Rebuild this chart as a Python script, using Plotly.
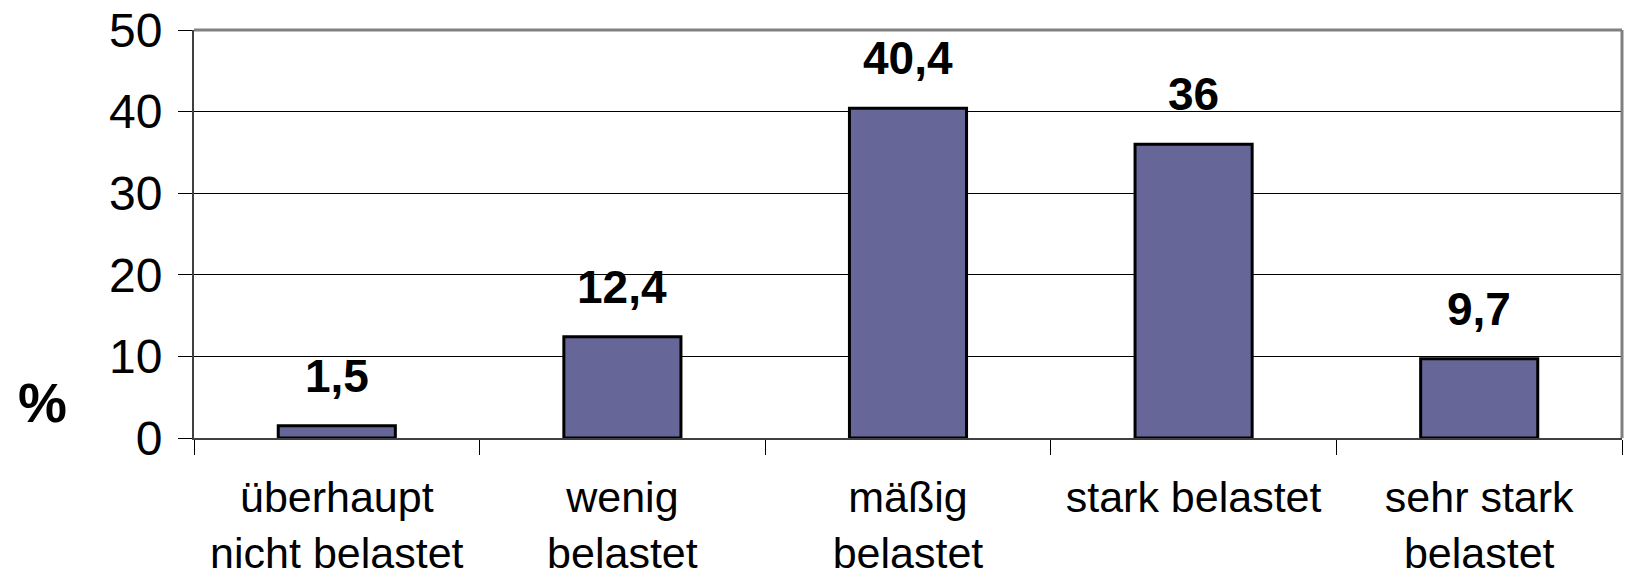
import plotly.graph_objects as go

categories = ["überhaupt<br>nicht belastet", "wenig<br>belastet", "mäßig<br>belastet",
              "stark belastet", "sehr stark<br>belastet"]
values = [1.5, 12.4, 40.4, 36, 9.7]
value_labels = ["1,5", "12,4", "40,4", "36", "9,7"]
y_ticks = [0, 10, 20, 30, 40, 50]

FONT = "Liberation Sans, Arial, sans-serif"

fig = go.Figure()
fig.add_trace(go.Bar(
    x=categories, y=values,
    marker=dict(color="#666699", line=dict(color="#000000", width=3)),
    hoverinfo="skip",
))

for c, v, t in zip(categories, values, value_labels):
    fig.add_annotation(x=c, y=v, text="<b>%s</b>" % t, showarrow=False,
                       xref="x", yref="y", yanchor="bottom", yshift=22,
                       font=dict(family=FONT, size=46, color="#000000"))

fig.add_annotation(x=-0.1064, y=4.3, xref="paper", yref="y", text="<b>%</b>",
                   showarrow=False, xanchor="center", yanchor="middle",
                   font=dict(family=FONT, size=55, color="#000000"))

# frame: top and right borders in gray
fig.add_shape(type="line", xref="paper", yref="paper", x0=0, x1=1, y0=1, y1=1,
              line=dict(color="#808080", width=3))
fig.add_shape(type="line", xref="paper", yref="paper", x0=1, x1=1, y0=0, y1=1,
              line=dict(color="#808080", width=3))

fig.update_layout(
    width=1625, height=581,
    margin=dict(l=194, r=3, t=30, b=143, autoexpand=False),
    paper_bgcolor="white", plot_bgcolor="white",
    bargap=0.59,
    showlegend=False,
    font=dict(family=FONT, color="#000000"),
    xaxis=dict(
        type="category", tickson="boundaries", ticks="outside", ticklen=15,
        tickcolor="#000000", tickwidth=1, automargin=False,
        showline=True, linecolor="#404040", linewidth=2,
        showgrid=False, tickfont=dict(family=FONT, size=43, color="#000000"),
        ticklabelstandoff=20,
    ),
    yaxis=dict(
        range=[0, 50], tickvals=y_ticks, ticktext=[str(v) for v in y_ticks],
        ticks="outside", ticklen=14, tickcolor="#000000", tickwidth=1,
        automargin=False,
        showline=True, linecolor="#404040", linewidth=2,
        showgrid=True, gridcolor="#000000", gridwidth=1,
        zeroline=False,
        tickfont=dict(family=FONT, size=48, color="#000000"),
        ticklabelstandoff=6,
    ),
)

fig.write_html("out.html")
